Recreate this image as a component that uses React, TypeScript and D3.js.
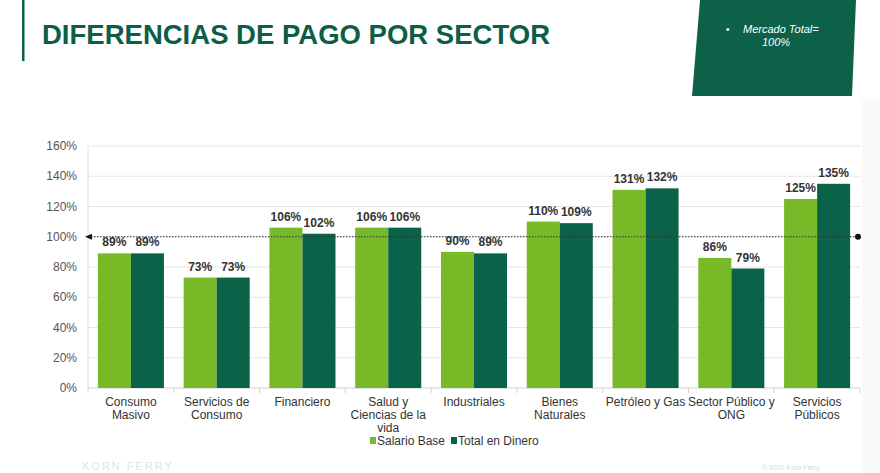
import React from "react";
import * as d3 from "d3";

const categories: string[][] = [
  ["Consumo", "Masivo"],
  ["Servicios de", "Consumo"],
  ["Financiero"],
  ["Salud y", "Ciencias de la", "vida"],
  ["Industriales"],
  ["Bienes", "Naturales"],
  ["Petróleo y Gas"],
  ["Sector Público y", "ONG"],
  ["Servicios", "Públicos"],
];
const salarioBase = [89, 73, 106, 106, 90, 110, 131, 86, 125];
const totalDinero = [89, 73, 102, 106, 89, 109, 132, 79, 135];
const yTicks = [0, 20, 40, 60, 80, 100, 120, 140, 160];
const seriesNames = ["Salario Base", "Total en Dinero"];

const W = 880;
const H = 473;
const LIGHT = "#78b928";
const DARK = "#0a6248";
const FONT = "'Liberation Sans', Arial, sans-serif";

export default function App() {
  const x0 = 88;
  const x1 = 860;
  const yScale = d3.scaleLinear().domain([0, 160]).range([388, 146]);
  const band = d3
    .scaleBand<number>()
    .domain(d3.range(categories.length))
    .range([x0, x1])
    .paddingInner(0.23)
    .paddingOuter(0.115);
  const sub = d3.scaleBand<number>().domain([0, 1]).range([0, band.bandwidth()]);
  const series = [salarioBase, totalDinero];
  const colors = [LIGHT, DARK];
  const step = (x1 - x0) / categories.length;

  return (
    <svg
      width={W}
      height={H}
      style={{ position: "absolute", left: 0, top: 0, background: "#fff" }}
      fontFamily={FONT}
    >
      <rect x={0} y={0} width={W} height={H} fill="#fff" />
      <rect x={862} y={100} width={18} height={373} fill="#f9f9fa" />
      {/* title */}
      <rect x={22} y={0} width={2.5} height={61} fill={DARK} />
      <text x={42} y={44} fontSize={28.5} fontWeight="bold" fill="#0c5e46" textLength={508} lengthAdjust="spacingAndGlyphs">
        DIFERENCIAS DE PAGO POR SECTOR
      </text>
      {/* box */}
      <polygon points="700,0 856,0 852,96 692,96" fill="#0d6149" />
      <text x={726} y={33} fontSize={10} fill="#fff">•</text>
      <text x={743} y={33} fontSize={11} fontStyle="italic" fill="#fff">Mercado Total=</text>
      <text x={762} y={46} fontSize={11} fontStyle="italic" fill="#fff">100%</text>

      {/* grid */}
      {yTicks.map((t) => (
        <g key={t}>
          <line x1={x0} x2={x1} y1={yScale(t)} y2={yScale(t)} stroke={t === 0 ? "#d0d0d0" : "#e6e6e6"} strokeWidth={1} />
          <text x={77} y={yScale(t) + 4} fontSize={12} fill="#555" textAnchor="end">
            {t}%
          </text>
        </g>
      ))}
      <line x1={x0} x2={x0} y1={yScale(160)} y2={yScale(0)} stroke="#e0e0e0" />
      {d3.range(categories.length + 1).map((i) => (
        <line key={i} x1={x0 + i * step} x2={x0 + i * step} y1={388} y2={393} stroke="#d0d0d0" />
      ))}

      {/* bars */}
      {categories.map((_, i) =>
        series.map((s, j) => {
          const x = (band(i) as number) + (sub(j) as number);
          const y = yScale(s[i]);
          return (
            <g key={`${i}-${j}`}>
              <rect x={x} y={y} width={sub.bandwidth()} height={yScale(0) - y} fill={colors[j]} />
              <text
                x={x + sub.bandwidth() / 2}
                y={y - 7}
                fontSize={12}
                fontWeight="bold"
                fill="#333"
                textAnchor="middle"
              >
                {s[i]}%
              </text>
            </g>
          );
        })
      )}

      {/* reference line */}
      <line x1={x0} x2={858} y1={yScale(100)} y2={yScale(100)} stroke="#333" strokeWidth={1} strokeDasharray="1.5,1.5" />
      <polygon points={`${x0 - 3},${yScale(100)} ${x0 + 4},${yScale(100) - 3} ${x0 + 4},${yScale(100) + 3}`} fill="#111" />
      <circle cx={858} cy={yScale(100)} r={3} fill="#111" />

      {/* x labels */}
      {categories.map((lines, i) => (
        <text key={i} textAnchor="middle" fontSize={12} fill="#333">
          {lines.map((l, k) => (
            <tspan key={k} x={(band(i) as number) + band.bandwidth() / 2} y={406 + k * 13}>
              {l}
            </tspan>
          ))}
        </text>
      ))}

      {/* legend */}
      <rect x={370} y={437} width={6} height={7} fill={LIGHT} />
      <text x={377} y={445} fontSize={12} fill="#333">{seriesNames[0]}</text>
      <rect x={451} y={437} width={6} height={7} fill={DARK} />
      <text x={458} y={445} fontSize={12} fill="#333">{seriesNames[1]}</text>

      {/* footer */}
      <text x={82} y={470} fontSize={11} fill="#e2e2e2" letterSpacing={2}>KORN FERRY</text>
      <text x={762} y={470} fontSize={7} fill="#d8d8d8">© 2020 Korn Ferry</text>
    </svg>
  );
}
